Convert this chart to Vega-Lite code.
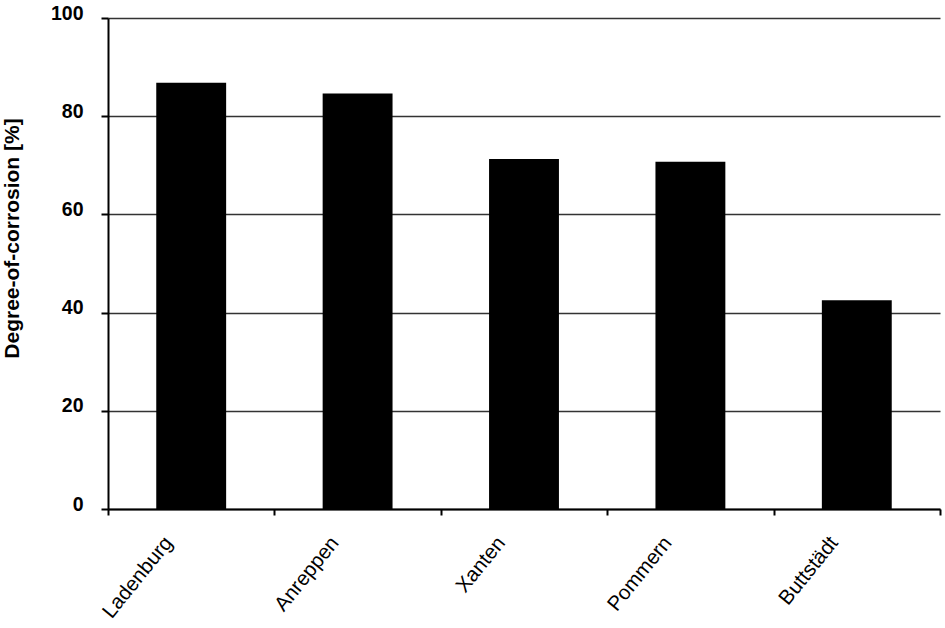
{
  "$schema": "https://vega.github.io/schema/vega-lite/v6.json",
  "description": "Degree of corrosion by site",
  "autosize": "none",
  "padding": {"left": 108, "top": 18, "right": 5, "bottom": 119},
  "width": 832,
  "height": 491,
  "background": "white",
  "config": {
    "view": {"stroke": null},
    "font": "Liberation Sans"
  },
  "data": {
    "values": [
      {"site": "Ladenburg", "corrosion": 86.8},
      {"site": "Anreppen", "corrosion": 84.6},
      {"site": "Xanten", "corrosion": 71.3},
      {"site": "Pommern", "corrosion": 70.7},
      {"site": "Buttstädt", "corrosion": 42.5}
    ]
  },
  "mark": {"type": "bar", "color": "black", "width": {"band": 0.42}},
  "encoding": {
    "x": {
      "field": "site",
      "type": "nominal",
      "sort": null,
      "title": null,
      "scale": {"paddingInner": 0, "paddingOuter": 0},
      "axis": {
        "labelAngle": -51,
        "labelFontSize": 20.5,
        "labelColor": "black",
        "labelPadding": 24,
        "labelOffset": -23,
        "tickBand": "extent",
        "tickSize": 6,
        "tickColor": "black",
        "tickWidth": 2,
        "domainColor": "black",
        "domainWidth": 2,
        "grid": false
      }
    },
    "y": {
      "field": "corrosion",
      "type": "quantitative",
      "title": "Degree-of-corrosion [%]",
      "scale": {"domain": [0, 100]},
      "axis": {
        "values": [0, 20, 40, 60, 80, 100],
        "titleFontSize": 21,
        "titleFontWeight": "bold",
        "titleColor": "black",
        "titlePadding": 28,
        "titleY": 220,
        "labelFontSize": 19.5,
        "labelFontWeight": "bold",
        "labelColor": "black",
        "labelPadding": 18,
        "labelOffset": -5,
        "tickSize": 7,
        "tickColor": "black",
        "tickWidth": 2,
        "domainColor": "black",
        "domainWidth": 2,
        "gridColor": "#333",
        "gridWidth": 1.3,
        "gridOpacity": 1
      }
    }
  }
}
